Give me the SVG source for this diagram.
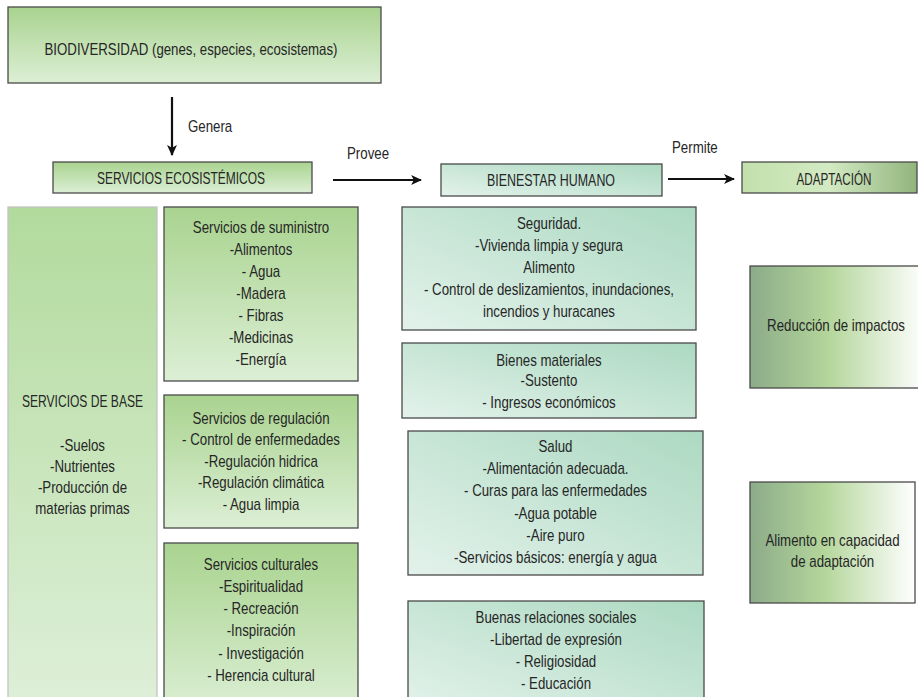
<svg xmlns="http://www.w3.org/2000/svg" width="918" height="697" viewBox="0 0 918 697">
<defs>
<style>
.t{font-family:"Liberation Sans",Arial,sans-serif;font-size:16px;fill:#262626;text-anchor:middle}
.c{font-family:"Liberation Sans",Arial,sans-serif;font-size:16.5px;fill:#262626;text-anchor:middle}
.l{font-family:"Liberation Sans",Arial,sans-serif;font-size:16px;fill:#262626}
.box{stroke:#4a4a4a;stroke-width:1.3}
.conn{stroke:#111;stroke-width:2.2;fill:none}
</style>
<linearGradient id="gGreen" x1="0" y1="0" x2="0" y2="1">
<stop offset="0" stop-color="#a9d38f"/><stop offset="1" stop-color="#dcefd5"/>
</linearGradient>
<linearGradient id="gBase" x1="0" y1="0" x2="0" y2="1">
<stop offset="0" stop-color="#b2da9d"/><stop offset="1" stop-color="#dff0da"/>
</linearGradient>
<linearGradient id="gTeal" x1="1" y1="0" x2="0" y2="1">
<stop offset="0" stop-color="#acd9c1"/><stop offset="1" stop-color="#e3f2eb"/>
</linearGradient>
<linearGradient id="gAdapt" x1="0" y1="0" x2="1" y2="0">
<stop offset="0" stop-color="#8cab89"/><stop offset="0.45" stop-color="#b4d69b"/><stop offset="1" stop-color="#ffffff"/>
</linearGradient>
<linearGradient id="gAdaptTop" x1="0" y1="0" x2="1" y2="0">
<stop offset="0" stop-color="#c2e0ab"/><stop offset="0.5" stop-color="#d3eac3"/><stop offset="1" stop-color="#91b47c"/>
</linearGradient>
<marker id="arr" viewBox="0 0 10 10" refX="9" refY="5" markerWidth="11" markerHeight="11" markerUnits="userSpaceOnUse" orient="auto">
<path d="M0,0.5 L10,5 L0,9.5 L2.5,5 z" fill="#111"/>
</marker>
</defs>
<rect width="918" height="697" fill="#ffffff"/>

<g id="connectors">
<line class="conn" x1="172" y1="97" x2="172" y2="155" marker-end="url(#arr)"/>
<line class="conn" x1="333" y1="180" x2="421" y2="180" marker-end="url(#arr)"/>
<line class="conn" x1="668" y1="179" x2="734" y2="179" marker-end="url(#arr)"/>
<text class="l" x="188" y="132" transform="matrix(0.83 0 0 1 31.96 0)">Genera</text>
<text class="l" x="347" y="159" transform="matrix(0.83 0 0 1 58.99 0)">Provee</text>
<text class="l" x="672" y="153" transform="matrix(0.83 0 0 1 114.24 0)">Permite</text>
</g>

<g id="biodiversidad">
<rect class="box" x="8" y="7" width="373" height="76" fill="url(#gGreen)"/>
<text class="c" x="191" y="55" textLength="293" lengthAdjust="spacingAndGlyphs">BIODIVERSIDAD (genes, especies, ecosistemas)</text>
</g>

<g id="servicios-ecosistemicos">
<rect class="box" x="53" y="162" width="259" height="31" fill="url(#gGreen)"/>
<text class="c" x="181" y="183.5" textLength="168" lengthAdjust="spacingAndGlyphs">SERVICIOS ECOSISTÉMICOS</text>
</g>

<g id="bienestar-humano">
<rect class="box" x="441" y="164" width="221" height="32" fill="url(#gTeal)"/>
<text class="c" x="551" y="185.5" textLength="128" lengthAdjust="spacingAndGlyphs">BIENESTAR HUMANO</text>
</g>

<g id="adaptacion">
<rect class="box" x="742" y="162" width="175" height="31" fill="url(#gAdaptTop)"/>
<text class="c" x="834" y="184.5" textLength="75" lengthAdjust="spacingAndGlyphs">ADAPTACIÓN</text>
</g>

<g id="servicios-base">
<rect x="8" y="207" width="149" height="510" fill="url(#gBase)" stroke="#c4c4c4" stroke-width="1.3"/>
<text class="c" x="82.5" y="407" textLength="121" lengthAdjust="spacingAndGlyphs">SERVICIOS DE BASE</text>
<g transform="matrix(0.83 0 0 1 14.025 0)">
<text class="t" x="82.5" y="451">-Suelos</text>
<text class="t" x="82.5" y="472">-Nutrientes</text>
<text class="t" x="82.5" y="493">-Producción de</text>
<text class="t" x="82.5" y="514">materias primas</text>
</g>
</g>

<g id="servicios-suministro">
<rect class="box" x="164" y="207" width="194" height="174" fill="url(#gGreen)"/>
<g transform="matrix(0.83 0 0 1 44.37 0)">
<text class="t" x="261" y="233">Servicios de suministro</text>
<text class="t" x="261" y="255">-Alimentos</text>
<text class="t" x="261" y="277">- Agua</text>
<text class="t" x="261" y="299">-Madera</text>
<text class="t" x="261" y="321">- Fibras</text>
<text class="t" x="261" y="343">-Medicinas</text>
<text class="t" x="261" y="365">-Energía</text>
</g>
</g>

<g id="servicios-regulacion">
<rect class="box" x="164" y="395" width="194" height="133" fill="url(#gGreen)"/>
<g transform="matrix(0.83 0 0 1 44.37 0)">
<text class="t" x="261" y="424">Servicios de regulación</text>
<text class="t" x="261" y="445.5">- Control de enfermedades</text>
<text class="t" x="261" y="467">-Regulación hidrica</text>
<text class="t" x="261" y="488.5">-Regulación climática</text>
<text class="t" x="261" y="510">- Agua limpia</text>
</g>
</g>

<g id="servicios-culturales">
<rect class="box" x="164" y="543" width="194" height="170" fill="url(#gGreen)"/>
<g transform="matrix(0.83 0 0 1 44.37 0)">
<text class="t" x="261" y="570">Servicios culturales</text>
<text class="t" x="261" y="592">-Espiritualidad</text>
<text class="t" x="261" y="614">- Recreación</text>
<text class="t" x="261" y="636.5">-Inspiración</text>
<text class="t" x="261" y="659">- Investigación</text>
<text class="t" x="261" y="681.5">- Herencia cultural</text>
</g>
</g>

<g id="seguridad">
<rect class="box" x="402" y="207" width="294" height="123" fill="url(#gTeal)"/>
<g transform="matrix(0.83 0 0 1 93.33 0)">
<text class="t" x="549" y="229">Seguridad.</text>
<text class="t" x="549" y="251">-Vivienda limpia y segura</text>
<text class="t" x="549" y="273">Alimento</text>
<text class="t" x="549" y="295">- Control de deslizamientos, inundaciones,</text>
<text class="t" x="549" y="317">incendios y huracanes</text>
</g>
</g>

<g id="bienes-materiales">
<rect class="box" x="402" y="343" width="294" height="75" fill="url(#gTeal)"/>
<g transform="matrix(0.83 0 0 1 93.33 0)">
<text class="t" x="549" y="366">Bienes materiales</text>
<text class="t" x="549" y="386">-Sustento</text>
<text class="t" x="549" y="408">- Ingresos económicos</text>
</g>
</g>

<g id="salud">
<rect class="box" x="408" y="431" width="295" height="144" fill="url(#gTeal)"/>
<g transform="matrix(0.83 0 0 1 94.435 0)">
<text class="t" x="555.5" y="452">Salud</text>
<text class="t" x="555.5" y="474">-Alimentación adecuada.</text>
<text class="t" x="555.5" y="496">- Curas para las enfermedades</text>
<text class="t" x="555.5" y="519">-Agua potable</text>
<text class="t" x="555.5" y="541">-Aire puro</text>
<text class="t" x="555.5" y="563">-Servicios básicos: energía y agua</text>
</g>
</g>

<g id="relaciones-sociales">
<rect class="box" x="408" y="601" width="296" height="110" fill="url(#gTeal)"/>
<g transform="matrix(0.83 0 0 1 94.52 0)">
<text class="t" x="556" y="623">Buenas relaciones sociales</text>
<text class="t" x="556" y="645">-Libertad de expresión</text>
<text class="t" x="556" y="667">- Religiosidad</text>
<text class="t" x="556" y="689">- Educación</text>
</g>
</g>

<g id="reduccion-impactos">
<rect class="box" x="750" y="266" width="175" height="122" fill="url(#gAdapt)"/>
<g transform="matrix(0.83 0 0 1 142.12 0)">
<text class="t" x="836" y="331">Reducción de impactos</text>
</g>
</g>

<g id="alimento-capacidad">
<rect class="box" x="750" y="482" width="165" height="121" fill="url(#gAdapt)"/>
<g transform="matrix(0.83 0 0 1 141.525 0)">
<text class="t" x="832.5" y="546">Alimento en capacidad</text>
<text class="t" x="832.5" y="567">de adaptación</text>
</g>
</g>
</svg>
